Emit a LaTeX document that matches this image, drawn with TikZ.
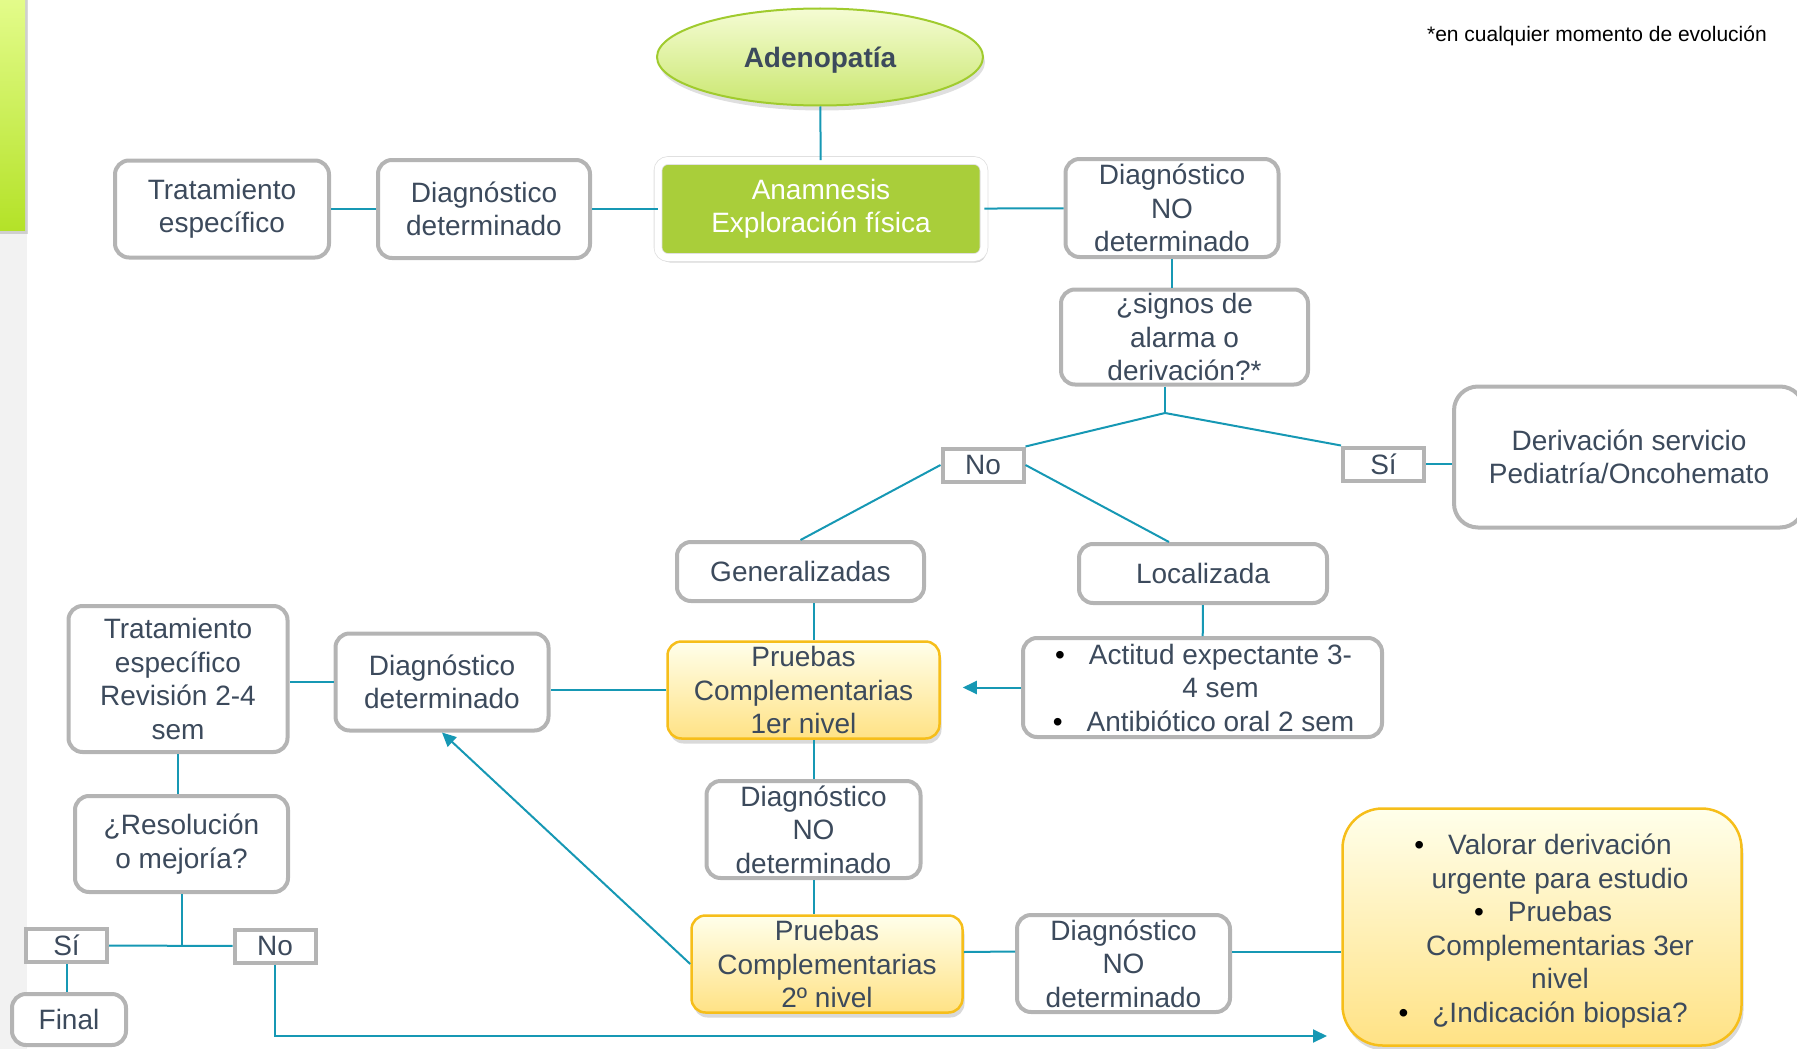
\documentclass[tikz,border=0pt]{standalone}
\usepackage{fontspec}
\setmainfont{Liberation Sans}
\usetikzlibrary{shapes.geometric,shadows,arrows.meta}
\definecolor{textgray}{RGB}{60,74,92}
\definecolor{boxgray}{RGB}{180,180,180}
\definecolor{linkblue}{RGB}{22,152,180}
\definecolor{leafgreen}{RGB}{169,206,58}
\definecolor{goldline}{RGB}{246,190,26}
\definecolor{stripgray}{RGB}{242,242,242}
\newcommand{\bitem}{\llap{\textcolor{black}{\textbullet}\hspace{24pt}}}

\begin{document}
\begin{tikzpicture}[x=1pt, y=-1pt,
    every node/.style={font=\fontsize{28}{33.5}\selectfont, text=textgray, align=center, inner sep=0pt},
    box/.style={draw=boxgray, line width=4pt, rounded corners=14pt, fill=white},
    tag/.style={draw=boxgray, line width=4pt, fill=white, minimum width=81pt, minimum height=33pt},
    test/.style={draw=goldline, line width=2.5pt, rounded corners=14pt, top color=yellow!8!white, bottom color={rgb,255:red,255;green,226;blue,133},
                 drop shadow={shadow xshift=2pt, shadow yshift=-5pt, opacity=0.3}},
    link/.style={draw=linkblue, line width=2pt},
    arrow/.style={link, -{Triangle[length=14pt,width=13pt]}}]
    \useasboundingbox (0,0) rectangle (1797,1049);
    \clip (0,0) rectangle (1797,1049);
    % side strip
    \fill[stripgray] (0,0) rectangle (27,1049);
    \shade[top color={rgb,255:red,228;green,252;blue,140}, bottom color={rgb,255:red,180;green,226;blue,40}, drop shadow={shadow xshift=3pt, shadow yshift=-4pt, opacity=0.3}] (-5,-5) rectangle (25,230);

    \node[font=\fontsize{21}{25}\selectfont, text=black, anchor=east] (nota) at (1767,36) {*en cualquier momento de evoluci\'on};

    % top row
    \node[ellipse, draw={rgb,255:red,160;green,203;blue,46}, line width=2pt, top color={rgb,255:red,245;green,252;blue,212}, bottom color={rgb,255:red,202;green,231;blue,112},
          minimum width=326pt, minimum height=97pt, font=\bfseries\fontsize{28}{33.5}\selectfont,
          drop shadow={shadow xshift=2pt, shadow yshift=-5pt, opacity=0.25}] (adeno) at (820,57) {\raisebox{-3pt}[\height][\depth]{Adenopatía}};
    \node[draw=black!12, line width=0.8pt, double=white, double distance=7pt, fill=leafgreen, rounded corners=10pt, text=white, minimum width=326pt, minimum height=97pt,
          drop shadow={shadow xshift=2pt, shadow yshift=-5pt, opacity=0.3}] (anam) at (821,209) {Anamnesis\\Exploración física};
    \node[box, minimum width=212pt, minimum height=98pt] (diag1) at (484,209) {Diagnóstico\\determinado};
    \node[box, minimum width=214pt, minimum height=97pt] (trat1) at (222,209) {Tratamiento\\específico};
    \node[box, minimum width=213pt, minimum height=98pt] (diagno1) at (1172,208) {Diagnóstico\\NO\\determinado};
    \node[box, minimum width=247pt, minimum height=95pt] (signos) at (1184.5,337) {¿signos de\\alarma o\\derivación?*};

    % alarm branch
    \coordinate (alarma) at (1165,413);
    \node[tag] (no1) at (983,465) {No};
    \node[tag] (si1) at (1383.5,464) {Sí};
    \node[box, rounded corners=24pt, minimum width=350pt, minimum height=141pt] (deriv) at (1629,457) {Derivación servicio\\Pediatría/Oncohemato};
    \node[box, minimum width=247pt, minimum height=59pt] (gener) at (800.5,571.5) {Generalizadas};
    \node[box, minimum width=248pt, minimum height=59pt] (local) at (1203,573.5) {Localizada};
    \node[box, minimum width=359pt, minimum height=99pt] (actitud) at (1202.5,687.5)
        {\hspace*{36pt}\bitem Actitud expectante 3-\\\hspace*{36pt}4 sem\\\hspace*{36pt}\bitem Antibiótico oral 2 sem};

    % middle column
    \node[test, minimum width=272pt, minimum height=97pt] (pr1) at (803.5,690) {Pruebas\\Complementarias\\1er nivel};
    \node[box, minimum width=213pt, minimum height=97pt] (diag2) at (442,682) {Diagnóstico\\determinado};
    \node[box, minimum width=219pt, minimum height=146pt] (trat2) at (178,679) {Tratamiento\\específico\\Revisión 2-4\\sem};
    \node[box, minimum width=213pt, minimum height=96pt] (resol) at (181.5,844) {¿Resolución\\o mejoría?};
    \node[box, minimum width=214pt, minimum height=97pt] (diagno2) at (813.5,829.5) {Diagnóstico\\NO\\determinado};
    \node[test, minimum width=271pt, minimum height=97pt] (pr2) at (827,964) {Pruebas\\Complementarias\\2º nivel};
    \node[box, minimum width=213pt, minimum height=97pt] (diagno3) at (1123.5,963.5) {Diagnóstico\\NO\\determinado};
    \node[test, rounded corners=40pt, minimum width=399pt, minimum height=237pt] (big) at (1542,927)
        {\raisebox{-5pt}[\height][\depth]{\begin{tabular}{@{}c@{}}\hspace*{36pt}\bitem Valorar derivación\\\hspace*{36pt}urgente para estudio\\\hspace*{36pt}\bitem Pruebas\\\hspace*{36pt}Complementarias 3er\\\hspace*{36pt}nivel\\\hspace*{36pt}\bitem ¿Indicación biopsia?\end{tabular}}};

    % bottom left
    \coordinate (mejora) at (182,945.5);
    \node[tag] (si2) at (66.5,945.5) {Sí};
    \node[tag] (no2) at (275,946) {No};
    \node[box, minimum width=114pt, minimum height=51pt] (final) at (69,1019.5) {Final};
    \coordinate (fondo) at (1327,1036);

    % connectors
    \draw[link] (adeno) -- (anam);
    \draw[link] (trat1) -- (diag1);
    \draw[link] (diag1) -- (anam);
    \draw[link] (anam) -- (diagno1);
    \draw[link] (diagno1) -- (diagno1 |- signos.north);
    \draw[link] (alarma |- signos.south) -- (alarma);
    \draw[link] (alarma) -- (no1.north east);
    \draw[link] (alarma) -- (si1.north west);
    \draw[link] (si1.east) -- (si1.east -| deriv.west);
    \draw[link] (no1.west) -- (gener.north);
    \draw[link] (no1.east) -- ([xshift=-34pt]local.north);
    \draw[link] (local) -- (actitud);
    \draw[arrow, shorten >=22pt] (actitud.west) -- (actitud.west -| pr1.east);
    \draw[link] (gener.south -| diagno2) -- (pr1.north -| diagno2);
    \draw[link] (pr1.west) -- (pr1.west -| diag2.east);
    \draw[link] (diag2.west) -- (diag2.west -| trat2.east);
    \draw[link] (trat2.south) -- (trat2.south |- resol.north);
    \draw[link] (resol.south -| mejora) -- (mejora);
    \draw[link] (si2) -- (no2);
    \draw[link] (si2.south) -- (si2.south |- final.north);
    \draw[arrow] (no2.south) |- (fondo);
    \draw[link] (pr1.south -| diagno2) -- (diagno2.north);
    \draw[link] (diagno2) -- (pr2.north -| diagno2);
    \draw[arrow] (pr2.west) -- (diag2.south);
    \draw[link] ([yshift=12pt]pr2.east) -- ([yshift=12pt]diagno3.west);
    \draw[link] ([yshift=12pt]diagno3.east) -- ([yshift=12pt]diagno3.east -| big.west);
\end{tikzpicture}
\end{document}
